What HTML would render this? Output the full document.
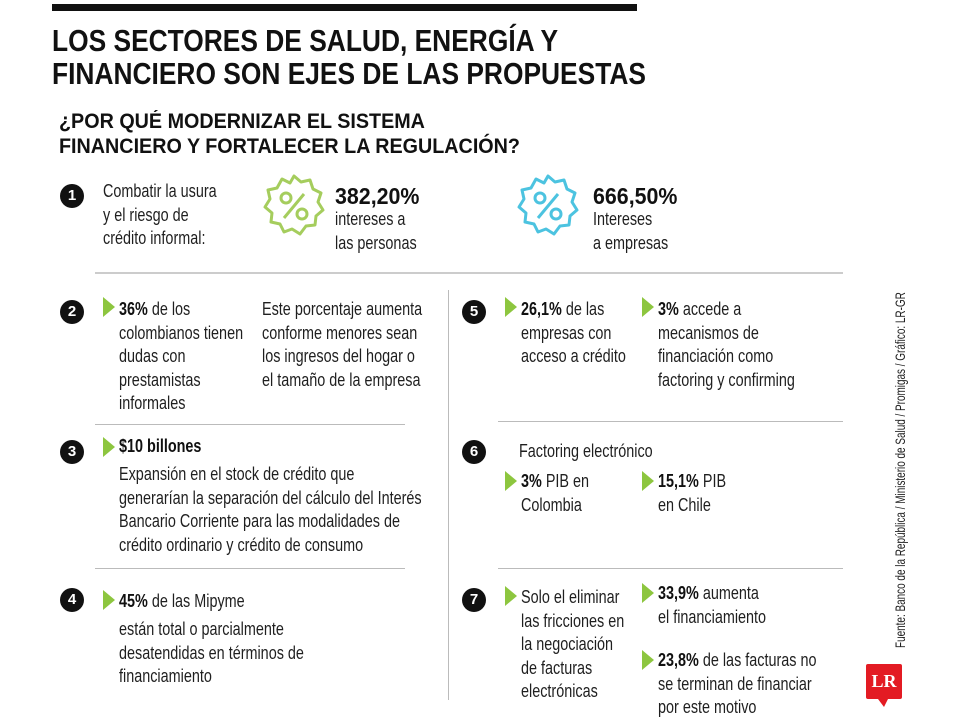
<!DOCTYPE html>
<html><head><meta charset="utf-8"><style>
body{margin:0;width:960px;height:720px;background:#fff;position:relative;overflow:hidden;font-family:"Liberation Sans",sans-serif;color:#1f1f1f}
.a{position:absolute;white-space:nowrap}
.t{font-size:18px;line-height:23.5px;transform:scaleX(.8);transform-origin:0 0}
.n{position:absolute;width:24px;height:24px;border-radius:50%;background:#111;color:#fff;font:bold 15px/24px "Liberation Sans",sans-serif;text-align:center}
.tr{position:absolute;width:0;height:0;border-top:10px solid transparent;border-bottom:10px solid transparent;border-left:12px solid #8dc63f}
.hr{position:absolute;height:1px;background:#bbb}
b{font-weight:bold;color:#111}
</style></head><body>
<div class="a" style="left:52px;top:4px;width:585px;height:7px;background:#111"></div>
<div class="a" style="left:52px;top:24px;font:bold 31px/33px 'Liberation Sans',sans-serif;color:#111;transform:scaleX(.85);transform-origin:0 0">LOS SECTORES DE SALUD, ENERGÍA Y<br>FINANCIERO SON EJES DE LAS PROPUESTAS</div>
<div class="a" style="left:59px;top:109px;font:bold 21px/25px 'Liberation Sans',sans-serif;color:#111;transform:scaleX(.94);transform-origin:0 0">¿POR QUÉ MODERNIZAR EL SISTEMA<br>FINANCIERO Y FORTALECER LA REGULACIÓN?</div>

<div class="n" style="left:60px;top:184px">1</div>
<div class="a t" style="left:103px;top:180px">Combatir la usura<br>y el riesgo de<br>crédito informal:</div>
<svg class="a" style="left:260px;top:172px" width="68" height="68" viewBox="-34 -34 68 68"><path d="M0,-30 L7,-24 16,-26 19,-17 27,-13 24,-4 29,4 22,10 21,19 12,20 6,28 -2,23 -10,26 -14,18 -23,16 -22,7 -29,1 -24,-7 -26,-16 -17,-18 -12,-27 -4,-23Z" fill="none" stroke="#a5cd5d" stroke-width="3" stroke-linejoin="round"/><circle cx="-8" cy="-8" r="5" fill="none" stroke="#a5cd5d" stroke-width="3"/><circle cx="8" cy="8" r="5" fill="none" stroke="#a5cd5d" stroke-width="3"/><line x1="10" y1="-12" x2="-10" y2="12" stroke="#a5cd5d" stroke-width="3"/></svg>
<div class="a" style="left:335px;top:183px;font:bold 23px/26px 'Liberation Sans',sans-serif;color:#111;transform:scaleX(.93);transform-origin:0 0">382,20%</div>
<div class="a t" style="left:335px;top:208px">intereses a<br>las personas</div>
<svg class="a" style="left:514px;top:172px" width="68" height="68" viewBox="-34 -34 68 68"><path d="M0,-30 L7,-24 16,-26 19,-17 27,-13 24,-4 29,4 22,10 21,19 12,20 6,28 -2,23 -10,26 -14,18 -23,16 -22,7 -29,1 -24,-7 -26,-16 -17,-18 -12,-27 -4,-23Z" fill="none" stroke="#4cc3e0" stroke-width="3" stroke-linejoin="round"/><circle cx="-8" cy="-8" r="5" fill="none" stroke="#4cc3e0" stroke-width="3"/><circle cx="8" cy="8" r="5" fill="none" stroke="#4cc3e0" stroke-width="3"/><line x1="10" y1="-12" x2="-10" y2="12" stroke="#4cc3e0" stroke-width="3"/></svg>
<div class="a" style="left:593px;top:183px;font:bold 23px/26px 'Liberation Sans',sans-serif;color:#111;transform:scaleX(.93);transform-origin:0 0">666,50%</div>
<div class="a t" style="left:593px;top:208px">Intereses<br>a empresas</div>
<div class="hr" style="left:95px;top:272px;width:748px;height:2px;background:#ccc"></div>

<div class="a" style="left:448px;top:290px;width:1px;height:410px;background:#bbb"></div>

<div class="n" style="left:60px;top:300px">2</div>
<div class="tr" style="left:103px;top:297px"></div>
<div class="a t" style="left:119px;top:298px"><b>36%</b> de los<br>colombianos tienen<br>dudas con<br>prestamistas<br>informales</div>
<div class="a t" style="left:262px;top:298px">Este porcentaje aumenta<br>conforme menores sean<br>los ingresos del hogar o<br>el tamaño de la empresa</div>
<div class="hr" style="left:95px;top:424px;width:310px"></div>

<div class="n" style="left:462px;top:300px">5</div>
<div class="tr" style="left:505px;top:297px"></div>
<div class="a t" style="left:521px;top:298px"><b>26,1%</b> de las<br>empresas con<br>acceso a crédito</div>
<div class="tr" style="left:642px;top:297px"></div>
<div class="a t" style="left:658px;top:298px"><b>3%</b> accede a<br>mecanismos de<br>financiación como<br>factoring y confirming</div>
<div class="hr" style="left:498px;top:421px;width:345px"></div>

<div class="n" style="left:60px;top:440px">3</div>
<div class="tr" style="left:103px;top:437px"></div>
<div class="a t" style="left:119px;top:435px"><b>$10 billones</b></div>
<div class="a t" style="left:119px;top:463px">Expansión en el stock de crédito que<br>generarían la separación del cálculo del Interés<br>Bancario Corriente para las modalidades de<br>crédito ordinario y crédito de consumo</div>
<div class="hr" style="left:95px;top:568px;width:310px"></div>

<div class="n" style="left:462px;top:440px">6</div>
<div class="a t" style="left:519px;top:440px">Factoring electrónico</div>
<div class="tr" style="left:505px;top:471px"></div>
<div class="a t" style="left:521px;top:470px"><b>3%</b> PIB en<br>Colombia</div>
<div class="tr" style="left:642px;top:471px"></div>
<div class="a t" style="left:658px;top:470px"><b>15,1%</b> PIB<br>en Chile</div>
<div class="hr" style="left:498px;top:568px;width:345px"></div>

<div class="n" style="left:60px;top:588px">4</div>
<div class="tr" style="left:103px;top:590px"></div>
<div class="a t" style="left:119px;top:590px"><b>45%</b> de las Mipyme</div>
<div class="a t" style="left:119px;top:618px">están total o parcialmente<br>desatendidas en términos de<br>financiamiento</div>

<div class="n" style="left:462px;top:588px">7</div>
<div class="tr" style="left:505px;top:586px"></div>
<div class="a t" style="left:521px;top:586px">Solo el eliminar<br>las fricciones en<br>la negociación<br>de facturas<br>electrónicas</div>
<div class="tr" style="left:642px;top:583px"></div>
<div class="a t" style="left:658px;top:582px"><b>33,9%</b> aumenta<br>el financiamiento</div>
<div class="tr" style="left:642px;top:650px"></div>
<div class="a t" style="left:658px;top:649px"><b>23,8%</b> de las facturas no<br>se terminan de financiar<br>por este motivo</div>

<div class="a" style="left:893px;top:648px;transform-origin:0 0;transform:rotate(-90deg) scaleX(.71);font-size:14px;line-height:14px;color:#222">Fuente: Banco de la República / Ministerio de Salud / Promigas / Gráfico: LR-GR</div>
<div class="a" style="left:866px;top:664px;width:36px;height:35px;background:#e31b23;border-radius:2px;color:#fff;font:bold 18px/35px 'Liberation Serif',serif;text-align:center">LR</div>
<div class="a" style="left:878px;top:699px;width:0;height:0;border-left:6px solid transparent;border-right:4px solid transparent;border-top:8px solid #e31b23"></div>
</body></html>
